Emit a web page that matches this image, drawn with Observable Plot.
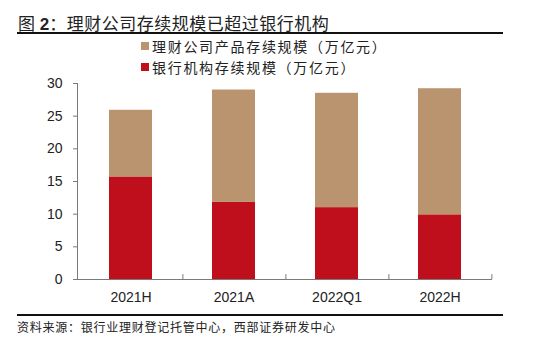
<!DOCTYPE html>
<html>
<head>
<meta charset="utf-8">
<script src="https://cdn.jsdelivr.net/npm/d3@7"></script>
<script src="https://cdn.jsdelivr.net/npm/@observablehq/plot@0.6"></script>
<style>
  html, body { margin: 0; padding: 0; background: #fff; }
  #wrap { position: relative; width: 540px; height: 345px; overflow: hidden; font-family: "Noto Sans CJK SC", sans-serif; }
  #title { position: absolute; left: 18px; top: 12px; font-size: 17px; letter-spacing: 0.5px; color: #222; line-height: 22px; white-space: nowrap; }
  #title b { font-family: "Liberation Sans", Arial, sans-serif; font-weight: bold; letter-spacing: 0; }
  .hr { position: absolute; left: 17px; width: 486px; height: 2px; background: #111; }
  #legend { position: absolute; left: 141px; top: 35px; font-size: 14px; color: #222; letter-spacing: 1.7px; }
  .lg { display: flex; align-items: center; height: 21px; white-space: nowrap; }
  .sw { width: 8px; height: 8px; margin-right: 3px; display: inline-block; }
  #source { position: absolute; left: 17px; top: 318px; font-size: 12px; color: #222; letter-spacing: 0.75px; white-space: nowrap; line-height: 18px; }
  #chart { position: absolute; left: 0; top: 0; }
</style>
</head>
<body>
<div id="wrap">
  <div id="chart"></div>
  <div id="title">图 <b>2</b>：理财公司存续规模已超过银行机构</div>
  <div class="hr" style="top:32px"></div>
  <div id="legend"></div>
  <div class="hr" style="top:314px"></div>
  <div id="source">资料来源：银行业理财登记托管中心，西部证券研发中心</div>
</div>
<script>
const categories = ["2021H", "2021A", "2022Q1", "2022H"];
const seriesNames = ["银行机构存续规模（万亿元）", "理财公司产品存续规模（万亿元）"];
const bankValues = [15.7, 11.8, 11.0, 9.9];
const wmcValues = [10.2, 17.2, 17.5, 19.3];
const yTicks = [0, 5, 10, 15, 20, 25, 30];
const colors = ["#C00F1C", "#B9946F"];
const legendOrder = [1, 0];

const rows = [];
categories.forEach((c, i) => {
  rows.push({cat: c, series: seriesNames[0], value: bankValues[i]});
  rows.push({cat: c, series: seriesNames[1], value: wmcValues[i]});
});

const W = 540, H = 345, ml = 77, mr = 48, mt = 83, mb = 66;
const pInner = 0.585, pOuter = 0.2925;
const step = (W - ml - mr) / (categories.length - pInner + 2 * pOuter);

const chart = Plot.plot({
  width: W, height: H,
  marginLeft: ml, marginRight: mr, marginTop: mt, marginBottom: mb,
  style: {fontFamily: "'Liberation Sans', Arial, sans-serif", fontSize: "14px", color: "#222", background: "transparent"},
  x: {domain: categories, paddingInner: pInner, paddingOuter: pOuter, label: null},
  y: {domain: [0, 30], ticks: yTicks, label: null},
  color: {domain: seriesNames, range: colors},
  marks: [
    Plot.barY(rows, Plot.stackY({x: "cat", y: "value", fill: "series", order: seriesNames})),
    Plot.frame({anchor: "left", stroke: "#7a7a7a"}),
    Plot.ruleY([0], {stroke: "#7a7a7a"}),
    Plot.ruleX(categories, {x: d => d, y1: 0, y2: 0.75, dx: step / 2, stroke: "#7a7a7a"}),
    Plot.axisY({ticks: yTicks, tickSize: 4, tickPadding: 11, stroke: "#7a7a7a", fill: "#222", fontSize: 14}),
    Plot.axisX({tickSize: 0, tickPadding: 13, fill: "#222", fontSize: 14})
  ]
});
document.getElementById("chart").appendChild(chart);

const legend = document.getElementById("legend");
legendOrder.forEach(i => {
  const d = document.createElement("div");
  d.className = "lg";
  const s = document.createElement("span");
  s.className = "sw";
  s.style.background = colors[i];
  d.appendChild(s);
  const t = document.createElement("span");
  t.textContent = seriesNames[i];
  d.appendChild(t);
  legend.appendChild(d);
});
</script>
</body>
</html>
